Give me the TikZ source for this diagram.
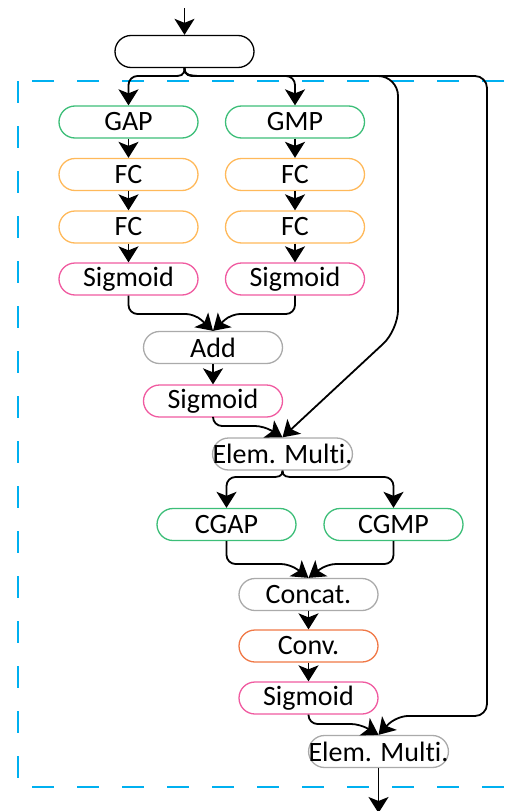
\documentclass[tikz,border=0pt]{standalone}
\usepackage{fontspec}
\setmainfont{Carlito}[Ligatures={NoCommon}]
\usetikzlibrary{arrows.meta}
\definecolor{poolgreen}{RGB}{60,190,120}
\definecolor{fcyellow}{RGB}{255,185,90}
\definecolor{sigpink}{RGB}{240,90,160}
\definecolor{opgray}{RGB}{170,170,170}
\definecolor{convorange}{RGB}{240,120,70}
\definecolor{boxblue}{RGB}{0,176,240}
\tikzset{
  blk/.style={draw, line width=1.3pt, rounded corners=16pt, minimum width=139pt, minimum height=32pt, inner sep=0pt, fill=white, font=\fontsize{28}{32}\selectfont},
  pool/.style={blk, draw=poolgreen},
  fc/.style={blk, draw=fcyellow},
  sig/.style={blk, draw=sigpink},
  op/.style={blk, draw=opgray},
  cv/.style={blk, draw=convorange},
  arr/.style={line width=1.8pt, rounded corners=9pt, -{Stealth[length=16pt,width=20pt,inset=4pt]}},
  dashbox/.style={draw=boxblue, line width=2.5pt, dash pattern=on 22pt off 23pt},
}
\begin{document}
\begin{tikzpicture}[x=1pt,y=-1pt]
    \useasboundingbox (0,0) rectangle (509,811);
    \clip (0,0) rectangle (509,811);
    \draw [dashbox] (18,81) rectangle (545,787);

    % channel part
    \node [blk, draw=black] (in) at (184.5,51.5) {};
    \node [pool] (gap) at (128.5,122) {GAP};
    \node [pool] (gmp) at (295,122) {GMP};
    \node [fc] (fca1) at (128.5,174.5) {FC};
    \node [fc] (fcm1) at (295,174.5) {FC};
    \node [fc] (fca2) at (128.5,227) {FC};
    \node [fc] (fcm2) at (295,227) {FC};
    \node [sig] (sga) at (128.5,279) {Sigmoid};
    \node [sig] (sgm) at (295,279) {Sigmoid};
    \node [op] (add) at (213,347.5) {Add};
    \node [sig] (sgc) at (213,401) {Sigmoid};
    \node [op] (mul1) at (282.5,454) {Elem. Multi.};

    % spatial part
    \node [pool] (cgap) at (226.5,524.5) {CGAP};
    \node [pool] (cgmp) at (393.5,524.5) {CGMP};
    \node [op] (cat) at (308.5,594.5) {Concat.};
    \node [cv] (conv) at (308.5,646) {Conv.};
    \node [sig] (sgs) at (308.5,698) {Sigmoid};
    \node [op] (mul2) at (378.5,751.5) {Elem. Multi.};

    \coordinate (top) at (184.5,8);
    \coordinate (bot) at (378.5,813);

    \draw [arr] (top) -- (in);
    \draw [arr] (in.south) .. controls (184.5,76) and (180,76) .. (165,76) -- (128.5,76) -- (gap.north);
    \draw [arr] (in.south) .. controls (184.5,76) and (190,76) .. (215,76) -- (295,76) -- (gmp.north);
    \draw [arr, rounded corners=20pt] (in.south) .. controls (184.5,76) and (190,76) .. (215,76) -- (398,76) -- (398,330) -- (mul1.north); % skip to channel multi
    \draw [arr, rounded corners=12pt] (in.south) .. controls (184.5,76) and (190,76) .. (215,76) -- (487,76) -- (487,716) -- (396,716) -- (mul2.north); % skip to spatial multi

    \draw [arr] (gap) -- (fca1);
    \draw [arr] (fca1) -- (fca2);
    \draw [arr] (fca2) -- (sga);
    \draw [arr] (gmp) -- (fcm1);
    \draw [arr] (fcm1) -- (fcm2);
    \draw [arr] (fcm2) -- (sgm);
    \draw [arr] (sga.south) -- (128.5,314) -- (195,314) -- (add.north);
    \draw [arr] (sgm.south) -- (295,314) -- (231,314) -- (add.north);
    \draw [arr] (add) -- (sgc);
    \draw [arr] (sgc.south) -- (213,426) -- (264,426) -- (mul1.north);

    \draw [arr] (mul1.south) .. controls (282.5,477) and (278,477) .. (262,477) -- (226.5,477) -- (cgap.north);
    \draw [arr] (mul1.south) .. controls (282.5,477) and (287,477) .. (303,477) -- (393.5,477) -- (cgmp.north);
    \draw [arr] (cgap.south) -- (226.5,564) -- (290,564) -- (cat.north);
    \draw [arr] (cgmp.south) -- (393.5,564) -- (327,564) -- (cat.north);
    \draw [arr] (cat) -- (conv);
    \draw [arr] (conv) -- (sgs);
    \draw [arr] (sgs.south) -- (308.5,724) -- (360,724) -- (mul2.north);
    \draw [arr] (mul2) -- (bot);
\end{tikzpicture}
\end{document}
